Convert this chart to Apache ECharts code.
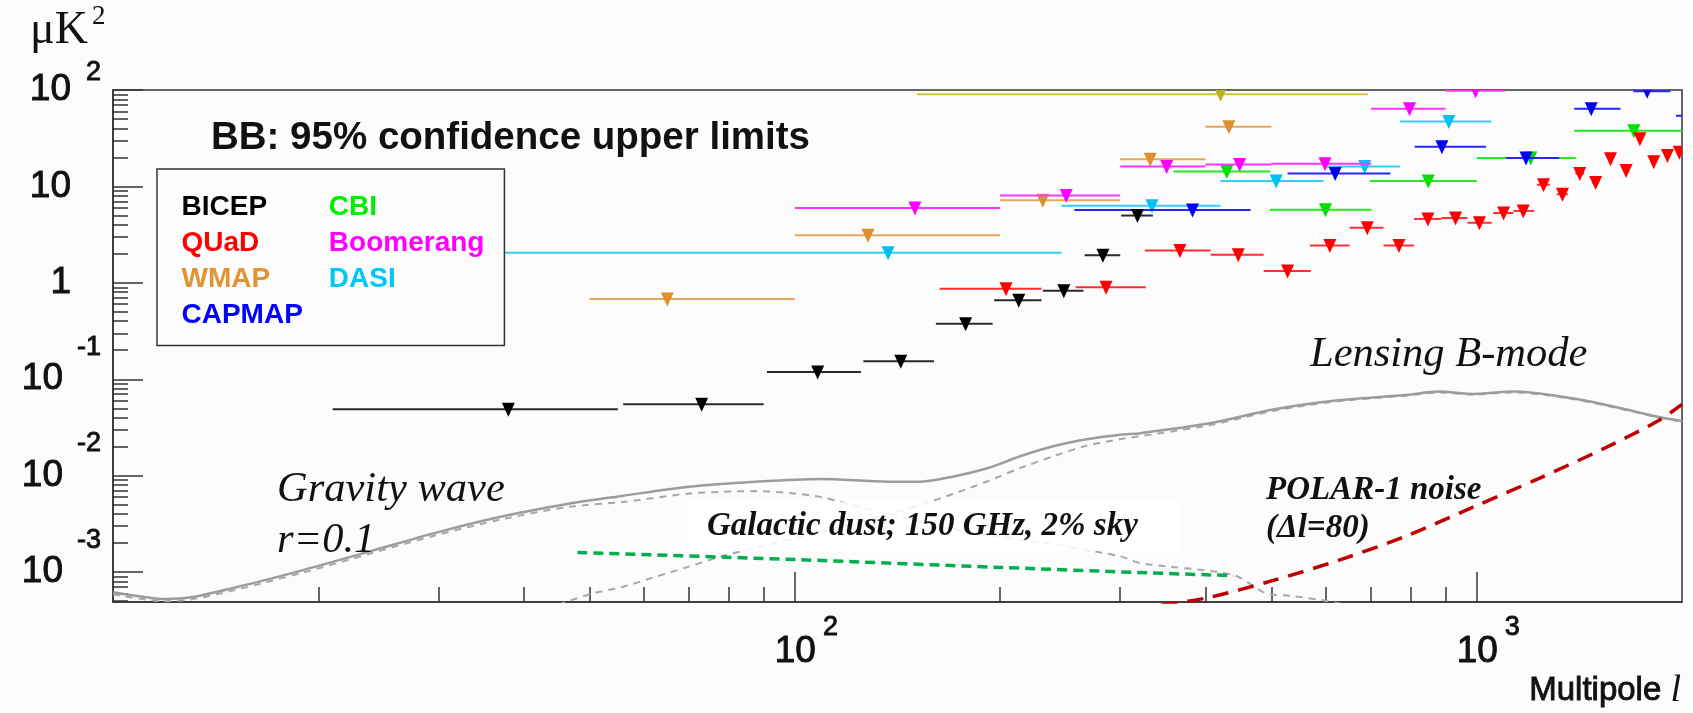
<!DOCTYPE html>
<html><head><meta charset="utf-8">
<script src="https://cdn.jsdelivr.net/npm/echarts@6/dist/echarts.min.js"></script>
<style>html,body{margin:0;padding:0;background:#fbfcfb}#c{width:1693px;height:713px}</style>
</head><body><div id="c"></div><script>
// ---- axis ranges & ticks ----
const xRange = [10, 2000];
const yRange = [4.9e-4, 100];
const xMajorTicks = [100, 1000];
const xMinorTicks = [20,30,40,50,60,70,80,90,200,300,400,500,600,700,800,900];
const yMajorTicks = [1e-3, 1e-2, 0.1, 1, 10, 100];
const yMinorTicks = [5e-4,6e-4,7e-4,8e-4,9e-4,
  0.002,0.003,0.004,0.005,0.006,0.007,0.008,0.009,
  0.02,0.03,0.04,0.05,0.06,0.07,0.08,0.09,
  0.2,0.3,0.4,0.5,0.6,0.7,0.8,0.9,
  2,3,4,5,6,7,8,9, 20,30,40,50,60,70,80,90];

// ---- upper limits: [l_low, l_center, l_high, value μK²] ----
const BICEP = [[21,38,55,0.049],[56,73,90,0.055],[91,108,125,0.119],[126,143,160,0.154],[161,178,195,0.377],[196,213,230,0.659],[231,248,265,0.827],[266,283,300,1.93],[301,318,335,4.99]];
const QUaD = [[163,204,230,0.87],[258,286,327,0.90],[326,367,407,2.16],[407,447,487,1.96],[487,528,571,1.33],[569,609,651,2.44],[651,691,730,3.73],[730,769,809,2.44],[809,848,887,4.6],[887,931,969,4.7],[969,1009,1052,4.2],[1057,1095,1132,5.3],[1132,1170,1214,5.57],[1225,1253,1280,10.4],[1310,1336,1360,8.3],[1395,1416,1437,13.6],[1475,1494,1512,11.0],[1571,1571,1571,19.4],[1656,1656,1656,14.6],[1735,1735,1735,31.3],[1818,1818,1818,18.0],[1904,1904,1904,20.9],[1982,1982,1982,22.6]];
const WMAP = [[50,65,100,0.68],[100,128,200,3.12],[200,231,300,7.2],[300,332,400,19.1],[400,433,500,41.6]];
const WMAP_broad = [[151,421,692,90.4]];
const CAPMAP = [[257,383,466,5.68],[528,620,747,13.6],[811,889,1032,25.8],[1104,1181,1321,19.7],[1390,1472,1625,63.8],[1697,1778,1924,97],[1960,2200,2400,54]];
const CBI = [[359,430,498,14.3],[497,600,701,5.72],[697,849,1000,11.4],[1000,1200,1397,19.7],[1390,1700,2000,37.7]];
const Boomerang = [[100,150,200,5.96],[200,250,300,8.04],[300,351,400,16.1],[400,449,500,16.9],[500,599,700,17.2],[700,797,900,63.8],[900,996,1100,98]];
const DASI = [[28,137,246,2.05],[246,334,421,6.3],[421,508,596,11.4],[596,685,772,16.1],[772,910,1050,47]];

// ---- theory / foreground curves: [l, μK²] ----
const totalBB = [[10,6.2e-4],[10.8,5.7e-4],[11.9,5.27e-4],[13,5.49e-4],[15.2,7.0e-4],[19,1.05e-3],[23.8,1.64e-3],[29.8,2.57e-3],[37.3,3.79e-3],[46.6,5.12e-3],[55.8,6.17e-3],[69.9,7.69e-3],[87.4,8.67e-3],[109,9.27e-3],[137,8.67e-3],[153,8.67e-3],[171,9.82e-3],[192,1.2e-2],[214,1.59e-2],[240,2.03e-2],[268,2.39e-2],[300,2.66e-2],[321,2.76e-2],[402,3.45e-2],[503,4.85e-2],[630,6.08e-2],[788,6.87e-2],[882,7.45e-2],[986,7.04e-2],[1129,7.45e-2],[1380,6.34e-2],[1635,4.97e-2],[1849,4.06e-2],[2000,3.7e-2]];
const gravityWave = [[10,5.9e-4],[11.9,5.0e-4],[13,5.2e-4],[15.2,6.6e-4],[19,9.9e-4],[23.8,1.55e-3],[29.8,2.42e-3],[37.3,3.55e-3],[46.6,4.75e-3],[55.8,5.33e-3],[69.9,6.53e-3],[78.1,6.8e-3],[87.4,6.92e-3],[97.8,6.63e-3],[109,6.03e-3],[122,4.92e-3],[171,2.79e-3],[240,1.93e-3],[300,1.46e-3],[321,1.24e-3],[440,9.3e-4],[492,6.0e-4],[532,5.7e-4],[599,5.06e-4],[640,4.6e-4]];
const lensingBB = [[45,4.6e-4],[50.3,5.97e-4],[55.8,7.0e-4],[62.4,8.93e-4],[69.9,1.14e-3],[78.1,1.46e-3],[87.4,1.78e-3],[109,2.6e-3],[137,4.0e-3],[153,5.0e-3],[171,6.5e-3],[192,8.8e-3],[214,1.2e-2],[240,1.6e-2],[268,2.05e-2],[300,2.39e-2],[402,3.3e-2],[503,4.7e-2],[630,5.95e-2],[788,6.75e-2],[882,7.3e-2],[986,6.95e-2],[1129,7.3e-2],[1380,6.25e-2],[1635,4.9e-2],[1849,4.0e-2],[2000,3.65e-2]];
const galacticDust = [[48,1.6e-3],[100,1.35e-3],[200,1.12e-3],[320,9.9e-4],[440,9.2e-4]];
const polarNoise = [[345,4.6e-4],[402,5.4e-4],[503,8.2e-4],[630,1.34e-3],[788,2.37e-3],[986,4.7e-3],[1235,9.4e-3],[1545,1.95e-2],[1849,3.74e-2],[2000,5.5e-2]];

const SANS = 'Liberation Sans', SERIF = 'Liberation Serif';
const INK = '#111';
const chart = echarts.init(document.getElementById('c'), null, {renderer: 'canvas'});

function limitSeries(name, data, barColor, triColor) {
  return {
    type: 'custom', name: name, data: data, z: 3,
    encode: {x: [0, 1, 2], y: 3},
    renderItem: function (params, api) {
      const v = api.value(3);
      const pl = api.coord([api.value(0), v]);
      const pc = api.coord([api.value(1), v]);
      const ph = api.coord([api.value(2), v]);
      const cs = params.coordSys;
      return {
        type: 'group',
        clipPath: {type: 'rect', shape: {x: cs.x, y: cs.y, width: cs.width, height: cs.height}},
        children: [
          {type: 'line', shape: {x1: pl[0], y1: pl[1], x2: ph[0], y2: ph[1]}, style: {stroke: barColor, lineWidth: 2}},
          {type: 'polygon', shape: {points: [[pc[0] - 6.5, pc[1] - 6.5], [pc[0] + 6.5, pc[1] - 6.5], [pc[0], pc[1] + 7.5]]}, style: {fill: triColor}}
        ]
      };
    }
  };
}
function curve(name, data, color, width, type) {
  return {type: 'line', name: name, data: data, showSymbol: false, symbol: 'none', smooth: 0.3,
    z: 2, lineStyle: {color: color, width: width, type: type}, silent: true};
}
function lab(size, pad) {
  return {fontFamily: SANS, fontSize: size, color: INK, textBorderColor: INK, textBorderWidth: 0.9, padding: pad};
}
const yLabelRich = {
  p: lab(37, [0, 30, 0, 0]),
  b: lab(37, [0, 15, 0, 0]),
  ep: lab(27, [0, 0, 34, 0]),
  bn: lab(37, [0, 14, 0, 0]),
  en: lab(27, [0, 0, 64, 0])
};
const xLabelRich = {
  bx: lab(37, [0, 7, 0, 23]),
  ex: lab(27, [0, 0, 48, 0])
};
const frameColor = '#333';

const option = {
  animation: false,
  backgroundColor: '#fbfcfb',
  grid: {left: 113, right: 11, top: 90, bottom: 111, show: true, borderColor: frameColor, borderWidth: 1.5, backgroundColor: '#fbfcfb'},
  xAxis: [
    {type: 'log', logBase: 10, min: xRange[0], max: xRange[1], position: 'bottom',
      axisLine: {show: true, lineStyle: {color: frameColor, width: 1.5}},
      axisTick: {show: true, inside: true, length: 30, customValues: xMajorTicks, lineStyle: {color: frameColor, width: 1.5}},
      axisLabel: {show: true, customValues: xMajorTicks, margin: 12,
        formatter: function (v) { return '{bx|10}{ex|' + Math.round(Math.log10(v)) + '}'; }, rich: xLabelRich},
      splitLine: {show: false}},
    {type: 'log', logBase: 10, min: xRange[0], max: xRange[1], position: 'bottom',
      axisLine: {show: false},
      axisTick: {show: true, inside: true, length: 15, customValues: xMinorTicks, lineStyle: {color: frameColor, width: 1.5}},
      axisLabel: {show: false}, splitLine: {show: false}}
  ],
  yAxis: [
    {type: 'log', logBase: 10, min: yRange[0], max: yRange[1], position: 'left',
      axisLine: {show: true, lineStyle: {color: frameColor, width: 1.5}},
      axisTick: {show: true, inside: true, length: 30, customValues: yMajorTicks, lineStyle: {color: frameColor, width: 1.5}},
      axisLabel: {show: true, customValues: yMajorTicks, margin: 12,
        formatter: function (v) {
          const e = Math.round(Math.log10(v));
          if (e === 1) return '{p|10}';
          if (e === 0) return '{p|1}';
          if (e > 1) return '{b|10}{ep|' + e + '}';
          return '{bn|10}{en|' + e + '}';
        }, rich: yLabelRich},
      splitLine: {show: false}},
    {type: 'log', logBase: 10, min: yRange[0], max: yRange[1], position: 'left',
      axisLine: {show: false},
      axisTick: {show: true, inside: true, length: 15, customValues: yMinorTicks, lineStyle: {color: frameColor, width: 1.5}},
      axisLabel: {show: false}, splitLine: {show: false}}
  ],
  legend: {
    orient: 'vertical', left: 157, top: 169,
    padding: [24, 20, 16.5, 19.5],
    itemGap: 8, itemWidth: 0, itemHeight: 14, icon: 'none',
    backgroundColor: '#fbfcfb', borderColor: frameColor, borderWidth: 1.5,
    textStyle: {fontFamily: SANS, fontWeight: 'bold', fontSize: 28},
    selectedMode: false, z: 10,
    data: [
      {name: 'BICEP', textStyle: {color: '#000000'}},
      {name: 'QUaD', textStyle: {color: '#ff0000'}},
      {name: 'WMAP', textStyle: {color: '#e09535'}},
      {name: 'CAPMAP', textStyle: {color: '#0000ff', backgroundColor: 'rgba(0,0,0,0)', padding: [0, 13, 0, 0]}},
      '',
      {name: 'CBI', textStyle: {color: '#00ee00'}},
      {name: 'Boomerang', textStyle: {color: '#ff00ff'}},
      {name: 'DASI', textStyle: {color: '#00c8f5'}}
    ]
  },
  series: [
    curve('Lensing (dashed)', lensingBB, '#a8a8a8', 2, [7, 6]),
    curve('Gravity wave (dashed)', gravityWave, '#a8a8a8', 2, [7, 6]),
    curve('Total', totalBB, '#9c9c9c', 2.5, 'solid'),
    curve('Galactic dust', galacticDust, '#00b050', 3.5, [10, 6]),
    curve('POLAR-1 noise', polarNoise, '#c00000', 3.5, [16, 10]),
    limitSeries('WMAP-broad', WMAP_broad, '#cfc640', '#bdb020'),
    limitSeries('DASI', DASI, '#35ccff', '#00c0f2'),
    limitSeries('WMAP', WMAP, '#eaa855', '#dd9030'),
    limitSeries('Boomerang', Boomerang, '#ff35ff', '#ff00ff'),
    limitSeries('CBI', CBI, '#25e825', '#00e000'),
    limitSeries('CAPMAP', CAPMAP, '#2525ff', '#0000f0'),
    limitSeries('QUaD', QUaD, '#ff3030', '#ff0000'),
    limitSeries('BICEP', BICEP, '#2a2a2a', '#000000')
  ],
  graphic: [
    {type: 'text', x: 30, y: 30.5, z: 50, style: {text: '{a|μK}{b|2}', align: 'left', verticalAlign: 'middle',
      rich: {a: {fontFamily: SERIF, fontSize: 46, fill: INK}, b: {fontFamily: SERIF, fontSize: 27, fill: INK, padding: [0, 0, 28, 4]}}}},
    {type: 'text', x: 211, y: 138, z: 50, style: {text: 'BB: 95% confidence upper limits', fontFamily: SANS, fontWeight: 'bold', fontSize: 38.5, fill: INK, align: 'left', verticalAlign: 'middle'}},
    {type: 'text', x: 277, y: 490, z: 50, style: {text: 'Gravity wave', fontFamily: SERIF, fontStyle: 'italic', fontSize: 42.5, fill: INK, align: 'left', verticalAlign: 'middle'}},
    {type: 'text', x: 277, y: 541, z: 50, style: {text: 'r=0.1', fontFamily: SERIF, fontStyle: 'italic', fontSize: 42.5, fill: INK, align: 'left', verticalAlign: 'middle'}},
    {type: 'text', x: 1310, y: 355, z: 50, style: {text: 'Lensing B-mode', fontFamily: SERIF, fontStyle: 'italic', fontSize: 42.5, fill: INK, align: 'left', verticalAlign: 'middle'}},
    {type: 'text', x: 688, y: 526.5, z: 50, style: {text: 'Galactic dust; 150 GHz, 2% sky', fontFamily: SERIF, fontStyle: 'italic', fontWeight: 'bold', fontSize: 33, fill: INK, align: 'left', verticalAlign: 'middle',
      backgroundColor: 'rgba(255,255,255,0.85)', padding: [4.5, 44, 11.5, 19]}},
    {type: 'text', x: 1266, y: 490.5, z: 50, style: {text: 'POLAR-1 noise', fontFamily: SERIF, fontStyle: 'italic', fontWeight: 'bold', fontSize: 33, fill: INK, align: 'left', verticalAlign: 'middle'}},
    {type: 'text', x: 1266, y: 528.5, z: 50, style: {text: '(Δl=80)', fontFamily: SERIF, fontStyle: 'italic', fontWeight: 'bold', fontSize: 33, fill: INK, align: 'left', verticalAlign: 'middle'}},
    {type: 'text', x: 1681, y: 691, z: 50, style: {text: '{m|Multipole }{l|l}', align: 'right', verticalAlign: 'middle',
      rich: {m: {fontFamily: SANS, fontSize: 33, fill: INK, stroke: INK, lineWidth: 0.9}, l: {fontFamily: SERIF, fontStyle: 'italic', fontSize: 38, fill: INK}}}}
  ]
};
chart.setOption(option);
</script></body></html>
